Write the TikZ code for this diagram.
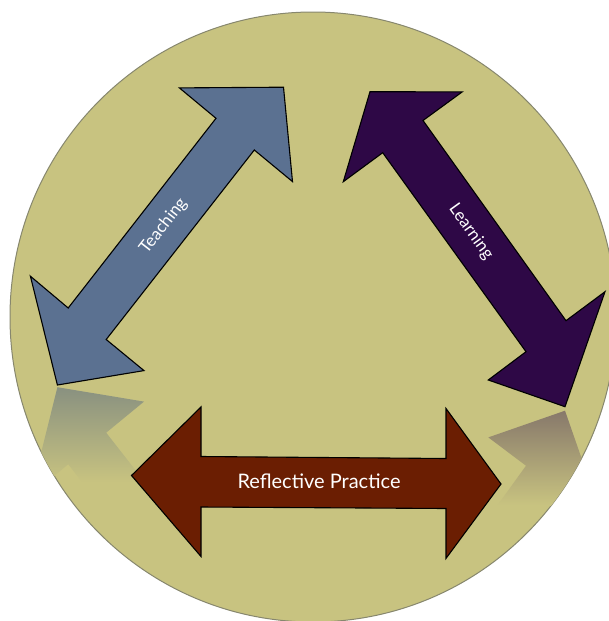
\documentclass[tikz,border=0pt]{standalone}
\usepackage{fontspec}
\setmainfont{Lato}
\usepackage{xcolor}

\definecolor{disc}{RGB}{200,195,128}
\definecolor{discedge}{RGB}{135,135,110}
\definecolor{teachblue}{RGB}{91,113,145}
\definecolor{learnpurple}{RGB}{46,8,70}
\definecolor{reflectbrown}{RGB}{107,30,2}
\definecolor{teachrefl}{RGB}{136,144,128}
\definecolor{learnrefl}{RGB}{133,118,106}

\newcommand{\teachpath}{(283.5,87.2) -- (292.5,181.6) -- (254.3,150) -- (106.2,339.5) -- (144,370.6) -- (57.4,385) -- (30.4,276.2) -- (68.2,308) -- (216,118.3) -- (179.4,87.9) -- cycle}
\newcommand{\learnpath}{(370,91.7) -- (462.2,91.9) -- (423,120.5) -- (566,320.7) -- (605,291.7) -- (565,406.7) -- (488.3,380) -- (526,351.7) -- (382.7,152.7) -- (343.3,181.7) -- cycle}
\newcommand{\reflectpath}{(131.5,475.5) -- (201,407) -- (201,456.5) -- (446,458.5) -- (446,408.5) -- (501,484) -- (446,558.4) -- (446,508.5) -- (201,507) -- (201,556.5) -- cycle}
\newcommand{\discpath}{(313,317) ellipse [x radius=303, y radius=305]}

\begin{document}
\begin{tikzpicture}[
    x=1pt, y=-1pt,
    disc/.style={fill=disc, draw=discedge, line width=1pt},
    arrowshape/.style={draw=black, line width=1.1pt, line join=miter},
    arrowtext/.style={text=white, inner sep=0pt, anchor=center}
]
\useasboundingbox (0,0) rectangle (609,621);
\path[disc] \discpath;
\begin{scope}
\clip \discpath;
\clip[shift={(0,772.2)}, yscale=-1] \teachpath;
\shade[top color=teachrefl, bottom color=disc] (0,386) rectangle (220,482);
\end{scope}
\begin{scope}
\clip \discpath;
\clip[shift={(0,817.4)}, yscale=-1] \learnpath;
\shade[top color=learnrefl, bottom color=disc] (400,408) rectangle (609,505);
\end{scope}
\path[arrowshape, fill=teachblue] \teachpath;
\path[arrowshape, fill=learnpurple] \learnpath;
\path[arrowshape, fill=reflectbrown] \reflectpath;
\node[arrowtext, rotate=52, font=\fontsize{17}{20}\selectfont] (teaching) at (163.5,226) {Teaching};
\node[arrowtext, rotate=-54.3, font=\fontsize{17}{20}\selectfont] (learning) at (471,232) {Learning};
\node[arrowtext, font=\fontsize{20}{24}\selectfont] (reflective) at (319,481) {Reflective Practice};
\end{tikzpicture}
\end{document}
